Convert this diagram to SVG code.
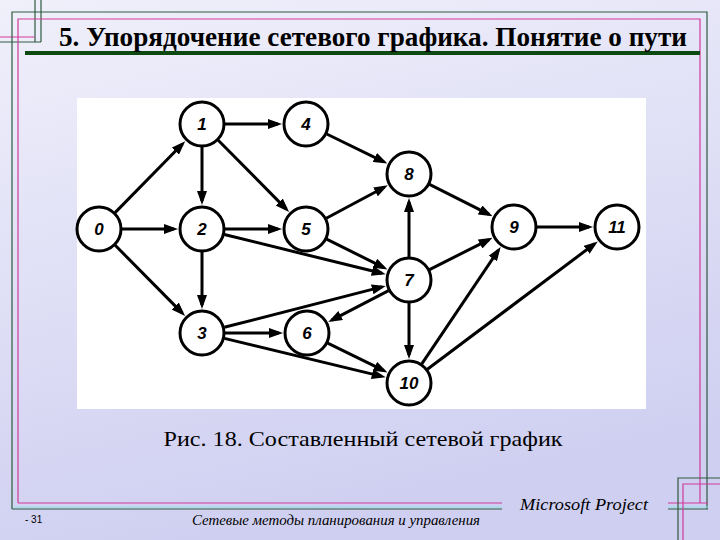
<svg xmlns="http://www.w3.org/2000/svg" width="720" height="540" viewBox="0 0 720 540">
<defs>
<linearGradient id="bg" x1="0" y1="0" x2="0.3" y2="1">
<stop offset="0" stop-color="#f0f0fb"/>
<stop offset="1" stop-color="#cfcff1"/>
</linearGradient>
<marker id="ah" viewBox="0 0 14 10" markerWidth="14" markerHeight="10" refX="10" refY="5" orient="auto" markerUnits="userSpaceOnUse">
<path d="M0,0 L14,5 L0,10 z" fill="#000"/>
</marker>
<style>
.g{stroke:#2e5a3e;stroke-width:1.2;fill:none}
.m{stroke:#d03a9a;stroke-width:1.2;fill:none}
.c{stroke:#8fe3e8;stroke-width:1.2;fill:none}
.serif{font-family:"Liberation Serif","DejaVu Serif","Times New Roman",serif;fill:#000}
.node circle{fill:#fff;stroke:#000;stroke-width:3}
.node text{font-family:"Liberation Sans",Arial,sans-serif;font-style:italic;font-weight:bold;font-size:17px;text-anchor:middle;fill:#000}
#edges line{stroke:#000;stroke-width:3;marker-end:url(#ah)}
</style>
</defs>
<rect width="720" height="540" fill="url(#bg)"/>
<g id="frame">
<path class="g" d="M35,0 V42 M41,0 V42 M0,42 H41"/>
<path class="m" d="M0,37 H35"/>
<path class="g" d="M12,509 V12 H707 V509"/>
<path class="m" d="M18,503 V19 H700 V503"/>
<path class="m" d="M18,503 H502 M668,503 H708"/>
<path class="c" d="M14,507 H502 M668,507 H708"/>
<path class="g" d="M12,509 H502 M668,509 H708"/>
<path class="g" d="M678,540 V478 H720"/>
<path class="m" d="M683,540 V484 H720"/>
<rect x="25" y="51" width="675" height="4" fill="#0d4a12"/>
</g>
<text class="serif" x="373" y="46" font-weight="bold" font-size="28" text-anchor="middle" textLength="628" lengthAdjust="spacingAndGlyphs">5. Упорядочение сетевого графика. Понятие о пути</text>
<rect x="77" y="98" width="569" height="311" fill="#fff"/>
<g id="edges">
<line x1="115.1" y1="212.6" x2="182.4" y2="144.0"/>
<line x1="122" y1="229" x2="174" y2="229"/>
<line x1="115.2" y1="245.3" x2="182.3" y2="313.1"/>
<line x1="225" y1="124" x2="278" y2="124"/>
<line x1="202" y1="147" x2="202" y2="201"/>
<line x1="218.2" y1="140.3" x2="286.3" y2="209.1"/>
<line x1="326.7" y1="134.0" x2="383.8" y2="161.8"/>
<line x1="225" y1="229" x2="278" y2="229"/>
<line x1="224.3" y1="234.5" x2="381.8" y2="273.3"/>
<line x1="202" y1="252" x2="202" y2="305"/>
<line x1="326.3" y1="218.2" x2="384.3" y2="187.2"/>
<line x1="326.6" y1="239.2" x2="383.9" y2="267.6"/>
<line x1="224.3" y1="327.3" x2="381.9" y2="286.9"/>
<line x1="225" y1="333" x2="279" y2="333"/>
<line x1="224.4" y1="338.4" x2="381.8" y2="376.4"/>
<line x1="388.6" y1="290.6" x2="331.8" y2="320.1"/>
<line x1="409" y1="257" x2="409" y2="202"/>
<line x1="429.5" y1="269.6" x2="489.0" y2="239.6"/>
<line x1="409" y1="303" x2="409" y2="355"/>
<line x1="429.5" y1="184.4" x2="489.0" y2="214.4"/>
<line x1="327.7" y1="343.1" x2="383.9" y2="370.7"/>
<line x1="537" y1="227" x2="589" y2="227"/>
<line x1="421.8" y1="363.9" x2="498.4" y2="250.2"/>
<line x1="427.4" y1="369.2" x2="594.6" y2="243.8"/>
</g>
<g id="n0" class="node"><circle cx="99" cy="229" r="22"/><text x="99" y="235">0</text></g>
<g id="n1" class="node"><circle cx="202" cy="124" r="22"/><text x="202" y="130">1</text></g>
<g id="n2" class="node"><circle cx="202" cy="229" r="22"/><text x="202" y="235">2</text></g>
<g id="n3" class="node"><circle cx="202" cy="333" r="22"/><text x="202" y="339">3</text></g>
<g id="n4" class="node"><circle cx="306" cy="124" r="22"/><text x="306" y="130">4</text></g>
<g id="n5" class="node"><circle cx="306" cy="229" r="22"/><text x="306" y="235">5</text></g>
<g id="n6" class="node"><circle cx="307" cy="333" r="22"/><text x="307" y="339">6</text></g>
<g id="n7" class="node"><circle cx="409" cy="280" r="22"/><text x="409" y="286">7</text></g>
<g id="n8" class="node"><circle cx="409" cy="174" r="22"/><text x="409" y="180">8</text></g>
<g id="n9" class="node"><circle cx="514" cy="227" r="22"/><text x="514" y="233">9</text></g>
<g id="n10" class="node"><circle cx="409" cy="383" r="22"/><text x="409" y="389">10</text></g>
<g id="n11" class="node"><circle cx="617" cy="227" r="22"/><text x="617" y="233">11</text></g>
<text class="serif" x="363" y="446" font-size="22" text-anchor="middle" textLength="399" lengthAdjust="spacingAndGlyphs">Рис. 18. Составленный сетевой график</text>
<text x="25" y="523" font-family="'Liberation Sans',Arial,sans-serif" font-size="10" fill="#000">- 31</text>
<text class="serif" x="192" y="525" font-style="italic" font-size="14" textLength="288" lengthAdjust="spacingAndGlyphs">Сетевые методы планирования и управления</text>
<text class="serif" x="520" y="510" font-style="italic" font-size="17" textLength="128" lengthAdjust="spacingAndGlyphs">Microsoft Project</text>
</svg>
